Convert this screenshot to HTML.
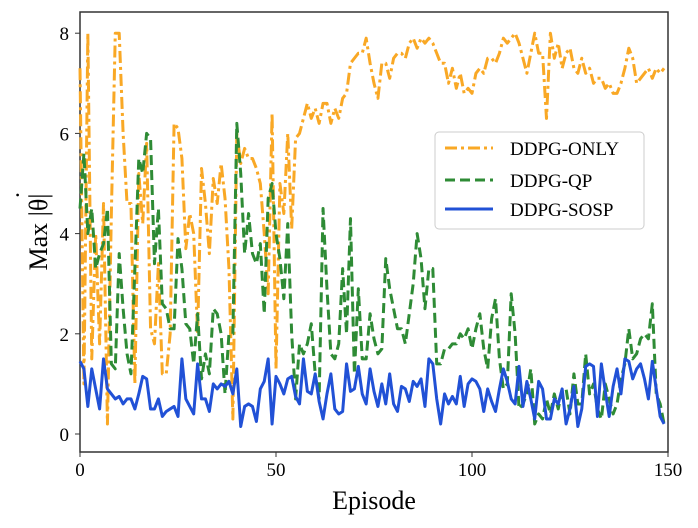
<!DOCTYPE html>
<html><head><meta charset="utf-8"><style>
body{margin:0;background:#fff;}
svg{display:block;font-family:"Liberation Serif","DejaVu Serif",serif;}
</style></head><body>
<svg id="chart" width="698" height="528">
<rect x="80" y="12" width="588" height="440" fill="#fff" stroke="#333" stroke-width="1.5"/>
<g id="ticks"></g>
<g id="series"></g>
<text x="374" y="509" text-anchor="middle" font-size="26">Episode</text>
<g transform="translate(47,232) rotate(-90)">
<text x="0" y="0" text-anchor="middle" font-size="26">Max |θ|</text>
<text x="37" y="-13" text-anchor="middle" font-size="26">˙</text>
</g>
<g>
<rect x="435" y="132" width="209" height="97" rx="4" fill="#fff" fill-opacity="0.85" stroke="#ccc" stroke-width="1"/>
<line x1="445" y1="148" x2="493" y2="148" stroke="#F9A825" stroke-width="3" stroke-dasharray="12,4,3,4"/>
<text x="510" y="155" font-size="19">DDPG-ONLY</text>
<line x1="445" y1="180" x2="493" y2="180" stroke="#2E8B35" stroke-width="3" stroke-dasharray="10,5"/>
<text x="510" y="187" font-size="19">DDPG-QP</text>
<line x1="445" y1="209" x2="493" y2="209" stroke="#2151D6" stroke-width="3"/>
<text x="510" y="216" font-size="19">DDPG-SOSP</text>
</g>
</svg>
<script>
const xTicks=[0,50,100,150];
const yTicks=[0,2,4,6,8];
const only=[7.3,1.0,8.0,1.5,4.0,1.8,4.6,0.2,4.4,8.0,
8.0,6.0,4.6,4.6,1.0,5.2,4.2,5.8,2.1,1.8,
3.4,1.2,1.2,2.0,6.2,6.1,5.5,3.7,4.4,4.0,
2.0,5.3,4.6,3.6,5.1,4.6,5.4,4.7,3.3,0.3,
6.0,5.4,5.7,5.5,5.5,5.3,5.0,4.0,2.8,6.4,
1.3,5.0,4.4,6.0,4.1,5.9,6.0,6.3,6.6,6.3,
6.5,6.2,6.6,6.6,6.2,6.5,6.3,6.7,6.8,7.4,
7.5,7.6,7.6,7.9,7.4,7.0,6.7,7.4,7.4,7.1,
7.5,7.6,7.6,7.5,7.8,7.9,7.7,7.9,7.8,7.9,
7.8,7.6,7.4,7.4,7.0,7.3,6.9,7.2,6.8,6.9,
6.8,7.2,7.3,7.2,7.5,7.5,7.4,7.6,7.9,7.8,
7.9,8.0,7.8,7.5,7.2,7.6,8.0,7.6,7.6,6.3,
8.0,7.5,7.8,7.3,7.6,7.7,7.3,7.2,7.5,7.2,
7.3,7.0,7.1,7.1,6.9,7.0,6.8,6.8,7.0,7.3,
7.7,7.5,7.0,7.1,7.2,7.3,7.1,7.3,7.2,7.3];
const qp=[4.5,5.6,4.0,4.5,3.3,3.6,3.8,4.5,1.4,1.3,
3.6,2.5,1.6,1.2,3.3,5.5,5.2,6.0,5.9,3.4,
4.5,2.6,2.5,2.1,2.1,3.9,3.3,2.2,2.1,1.4,
2.4,1.1,1.6,1.2,2.5,2.4,2.0,0.8,2.0,2.0,
6.2,5.2,3.6,4.4,3.6,3.4,3.8,2.4,4.7,5.0,
4.0,3.5,2.7,4.2,2.0,0.7,1.8,1.6,1.8,2.2,
1.2,0.7,4.5,2.9,1.6,1.5,1.8,3.3,2.0,4.3,
1.2,2.9,1.5,1.5,2.4,1.9,1.6,1.7,3.5,2.9,
2.5,2.1,2.1,1.8,2.4,3.0,4.0,3.5,2.5,3.3,
3.3,1.4,1.4,1.7,1.7,1.8,1.8,2.0,1.9,2.1,
1.7,2.1,2.4,1.7,1.3,2.3,2.7,1.5,0.9,1.0,
2.8,2.0,0.5,0.6,0.8,1.3,0.2,0.4,0.3,0.7,
0.4,0.8,0.5,0.9,0.9,0.4,1.2,0.6,0.6,1.6,
0.8,1.0,0.5,0.3,1.0,0.7,0.4,0.6,1.1,1.4,
2.1,1.5,1.6,1.9,2.0,1.9,2.6,0.8,0.6,0.2];
const sosp=[1.45,1.3,0.55,1.3,0.9,0.5,1.5,0.9,0.8,0.7,
0.75,0.6,0.7,0.7,0.5,0.8,1.15,1.1,0.5,0.5,
0.7,0.35,0.45,0.5,0.55,0.35,1.5,0.7,0.55,0.4,
1.4,0.7,0.7,0.45,1.0,0.9,1.0,0.95,1.05,0.8,
1.3,0.15,0.55,0.6,0.55,0.25,0.9,1.05,1.5,0.2,
1.15,1.0,0.8,1.1,1.15,0.75,0.6,1.5,0.85,0.8,
1.2,0.65,0.3,0.8,1.2,0.5,0.4,0.45,1.4,0.85,
0.9,1.35,0.8,0.6,1.3,0.85,0.55,1.0,0.6,1.2,
0.6,0.45,0.95,0.9,0.65,1.05,0.95,1.1,0.55,1.5,
1.4,0.7,0.2,0.8,0.6,0.75,0.6,1.15,0.55,1.0,
1.1,1.05,0.9,0.45,0.9,0.65,0.45,0.9,1.3,1.05,
0.7,0.6,1.35,0.55,1.05,0.7,0.3,1.05,0.9,0.3,
0.3,0.7,0.6,0.9,0.2,0.5,0.95,0.15,0.5,1.35,
1.4,1.35,0.35,1.4,0.85,0.35,0.95,1.3,0.8,1.5,
1.45,1.1,1.3,1.4,1.1,0.7,1.45,0.9,0.35,0.2];
const NS='http://www.w3.org/2000/svg';
const X=v=>80+v*588/150;
const Y=v=>434-v*50.1;
const tg=document.getElementById('ticks');
xTicks.forEach(t=>{
  const l=document.createElementNS(NS,'line');
  l.setAttribute('x1',X(t));l.setAttribute('x2',X(t));l.setAttribute('y1',452);l.setAttribute('y2',457);
  l.setAttribute('stroke','#333');
  
  
  tg.appendChild(l);
  const s=document.createElementNS(NS,'text');
  s.setAttribute('x',X(t));s.setAttribute('y',476);s.setAttribute('text-anchor','middle');s.setAttribute('font-size','19');
  s.textContent=t;
  
  
  tg.appendChild(s);
});
yTicks.forEach(t=>{
  const l=document.createElementNS(NS,'line');
  l.setAttribute('x1',75);l.setAttribute('x2',80);l.setAttribute('y1',Y(t));l.setAttribute('y2',Y(t));
  l.setAttribute('stroke','#333');
  
  
  tg.appendChild(l);
  const s=document.createElementNS(NS,'text');
  s.setAttribute('x',69);s.setAttribute('y',Y(t)+7);s.setAttribute('text-anchor','end');s.setAttribute('font-size','19');
  s.textContent=t;
  
  
  tg.appendChild(s);
});
const sg=document.getElementById('series');
function draw(arr,color,dash,name){
  const p=document.createElementNS(NS,'polyline');
  p.setAttribute('points',arr.map((v,i)=>X(i)+','+Y(v)).join(' '));
  p.setAttribute('fill','none');p.setAttribute('stroke',color);p.setAttribute('stroke-width','3');
  p.setAttribute('stroke-linejoin','round');
  if(dash)p.setAttribute('stroke-dasharray',dash);
  
  
  sg.appendChild(p);
}
draw(only,'#F9A825','12,4,3,4','series-ddpg-only');
draw(qp,'#2E8B35','10,5','series-ddpg-qp');
draw(sosp,'#2151D6',null,'series-ddpg-sosp');
</script>
</body></html>
